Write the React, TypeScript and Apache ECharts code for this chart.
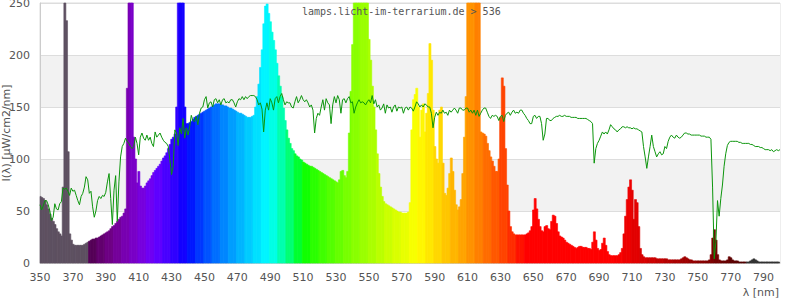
import React, { useEffect, useRef } from "react";
import * as echarts from "echarts";

const TITLE = "lamps.licht-im-terrarium.de > 536";
const Y_NAME = "I(λ) [µW/cm2/nm]";
const X_NAME = "λ [nm]";
const LAMBDA_START = 350;

// lamp spectrum, 1 nm steps from 350 nm to 799 nm
const spectrum: number[] = [
  64, 63, 62, 60, 56, 52, 47, 43, 40, 37,
  33, 30, 28, 26, 73, 400, 233, 107, 28, 22,
  18, 17, 17, 17, 17, 17, 17, 18, 19, 20,
  21, 22, 23, 23, 24, 24, 25, 26, 27, 28,
  29, 30, 31, 33, 35, 36, 38, 40, 42, 44,
  45, 48, 52, 168, 400, 400, 400, 121, 100, 77,
  88, 74, 72, 72, 74, 77, 79, 81, 84, 87,
  89, 91, 93, 95, 98, 101, 103, 106, 110, 114,
  119, 121, 124, 150, 400, 400, 400, 400, 150, 134,
  134, 135, 136, 138, 140, 141, 142, 143, 144, 145,
  146, 147, 148, 149, 150, 151, 152, 153, 153, 153,
  152, 152, 151, 151, 150, 149, 149, 148, 147, 146,
  145, 144, 144, 143, 142, 141, 140, 140, 140, 141,
  142, 150, 160, 172, 188, 205, 230, 247, 249, 240,
  232, 222, 214, 205, 192, 180, 170, 160, 149, 137,
  128, 120, 115, 110, 108, 105, 103, 102, 100, 99,
  97, 96, 95, 94, 93, 93, 92, 91, 90, 89,
  88, 87, 86, 85, 84, 83, 82, 81, 80, 79,
  78, 77, 80, 88, 89, 84, 82, 88, 125, 165,
  210, 400, 400, 400, 400, 400, 400, 400, 400, 400,
  215, 195, 170, 150, 128, 105, 86, 73, 64, 59,
  57, 56, 55, 54, 53, 52, 51, 50, 49, 49,
  48, 48, 48, 48, 49, 58, 128, 157, 162, 168,
  150, 121, 147, 153, 126, 144, 163, 211, 195, 147,
  112, 100, 96, 147, 150, 96, 67, 65, 72, 86,
  101, 88, 70, 56, 51, 54, 61, 86, 121, 160,
  400, 400, 400, 400, 400, 400, 400, 400, 126, 125,
  124, 122, 115, 108, 102, 98, 93, 88, 88, 100,
  140, 178, 170, 110, 75, 50, 35, 30, 28, 27,
  27, 27, 27, 27, 27, 27, 28, 29, 31, 35,
  51, 62, 52, 42, 35, 31, 30, 35, 36, 33,
  32, 40, 46, 45, 38, 30, 26, 25, 24, 22,
  20, 19, 18, 17, 16, 15, 14, 15, 16, 16,
  15, 15, 15, 14, 14, 13, 20, 30, 22, 14,
  12, 13, 19, 24, 17, 11, 8, 7, 7, 7,
  7, 7, 8, 10, 14, 28, 45, 61, 73, 80,
  70, 42, 61, 58, 35, 14, 8, 6, 5, 5,
  5, 5, 5, 5, 5, 4, 4, 4, 4, 4,
  4, 4, 3, 3, 3, 3, 3, 3, 3, 3,
  4, 5, 6, 5, 4, 3, 3, 2, 2, 2,
  2, 2, 2, 2, 2, 2, 2, 3, 8, 24,
  32, 22, 8, 3, 2, 2, 2, 2, 3, 6,
  5, 3, 2, 2, 2, 1, 1, 1, 1, 1,
  1, 1, 2, 3, 4, 3, 2, 1, 1, 1,
  1, 1, 1, 1, 1, 1, 1, 1, 1, 1,
];

// reference (daylight) curve, 1 nm steps from 350 nm to 800 nm
const reference: number[] = [
  56, 51, 55, 60, 60, 56, 50, 41, 44, 57,
  52, 51, 57, 59, 72, 71, 72, 69, 65, 72,
  69, 70, 65, 60, 56, 64, 67, 73, 83, 80,
  67, 69, 54, 44, 50, 60, 64, 62, 65, 64,
  68, 78, 86, 62, 37, 70, 84, 40, 78, 102,
  112, 115, 120, 117, 115, 112, 110, 112, 121, 115,
  104, 121, 125, 120, 118, 123, 118, 121, 115, 112,
  126, 121, 123, 125, 121, 118, 116, 115, 112, 99,
  85, 93, 128, 125, 113, 130, 124, 139, 120, 130,
  123, 131, 142, 137, 136, 141, 133, 144, 149, 150,
  157, 160, 149, 154, 155, 150, 157, 158, 154, 157,
  152, 157, 158, 154, 155, 154, 157, 157, 154, 150,
  155, 158, 157, 160, 157, 160, 158, 160, 161, 161,
  161, 160, 157, 152, 154, 148, 126, 147, 154, 147,
  158, 154, 147, 158, 160, 154, 160, 163, 157, 152,
  155, 154, 154, 150, 149, 155, 160, 154, 157, 161,
  157, 155, 157, 154, 150, 152, 147, 125, 139, 144,
  142, 150, 157, 147, 158, 154, 152, 134, 152, 160,
  154, 161, 157, 144, 157, 158, 154, 158, 160, 154,
  155, 144, 150, 154, 157, 154, 155, 154, 152, 155,
  157, 154, 161, 153, 157, 150, 152, 147, 149, 153,
  144, 152, 149, 150, 145, 150, 152, 146, 150, 149,
  150, 144, 149, 150, 147, 150, 149, 146, 150, 155,
  153, 150, 152, 150, 153, 152, 150, 150, 144, 130,
  140, 145, 142, 145, 144, 147, 144, 145, 142, 147,
  145, 147, 149, 147, 144, 149, 149, 147, 147, 149,
  149, 145, 147, 144, 147, 142, 147, 141, 144, 147,
  149, 149, 145, 141, 139, 142, 141, 142, 141, 137,
  141, 142, 136, 142, 144, 145, 142, 145, 147, 144,
  145, 144, 147, 147, 144, 142, 139, 137, 134, 134,
  141, 142, 139, 141, 141, 134, 118, 124, 139, 139,
  137, 137, 139, 140, 141, 141, 142, 141, 141, 142,
  141, 141, 141, 140, 140, 140, 140, 139, 139, 139,
  139, 139, 139, 138, 137, 136, 134, 96, 110, 115,
  118, 122, 126, 124, 126, 124, 128, 133, 131, 129,
  128, 126, 128, 129, 131, 131, 130, 131, 130, 130,
  129, 130, 129, 129, 128, 127, 126, 112, 102, 91,
  102, 112, 123, 112, 107, 102, 105, 107, 104, 105,
  112, 110, 117, 121, 123, 121, 120, 123, 121, 120,
  121, 123, 125, 125, 124, 124, 123, 123, 123, 123,
  123, 123, 122, 122, 122, 121, 121, 121, 119, 73,
  4, 20, 60, 45, 62, 75, 93, 105, 113, 116,
  117, 117, 117, 117, 117, 116, 116, 115, 115, 115,
  115, 115, 114, 114, 113, 112, 112, 112, 111, 111,
  110, 109, 109, 109, 108, 109, 107, 108, 109, 108,
  109,
];

function wavelengthColor(l: number): string {
  if (l < 380) return "#5e5161";
  if (l >= 780) return "#333333";
  const c = Math.floor(l / 5) * 5 + 2.5;
  let r = 0, g = 0, b = 0;
  if (c < 440) { r = -(c - 440) / 60; b = 1; }
  else if (c < 490) { g = (c - 440) / 50; b = 1; }
  else if (c < 510) { g = 1; b = -(c - 510) / 20; }
  else if (c < 580) { r = (c - 510) / 70; g = 1; }
  else if (c < 645) { r = 1; g = -(c - 645) / 65; }
  else { r = 1; }
  let f = 1;
  if (c < 420) f = 0.3 + (0.7 * (c - 380)) / 40;
  else if (c > 700) f = 0.3 + (0.7 * (780 - c)) / 80;
  const conv = (v: number) => (v <= 0 ? 0 : Math.round(255 * Math.pow(v, 0.8) * f));
  return `rgb(${conv(r)},${conv(g)},${conv(b)})`;
}

export default function App() {
  const ref = useRef<HTMLDivElement>(null);
  useEffect(() => {
    if (!ref.current) return;
    const chart = echarts.init(ref.current, undefined, { renderer: "svg" });
    const specData = spectrum.map((v, i) => [LAMBDA_START + i, v]);
    const refData = reference.map((v, i) => [LAMBDA_START + i, v]);
    const labelStyle = { color: "#555", fontSize: 11, fontFamily: "DejaVu Sans" };
    chart.setOption({
      animation: false,
      grid: {
        left: 40, right: 20, top: 3, bottom: 37,
        outerBoundsMode: "none",
        containLabel: false,
        show: true, borderColor: "#dddddd", borderWidth: 1,
      },
      title: {
        text: TITLE, left: 302, top: 6, padding: 0,
        textStyle: { fontFamily: "DejaVu Sans Mono", fontSize: 10, fontWeight: "normal", color: "#555" },
      },
      xAxis: {
        type: "value", min: 350, max: 800, interval: 20,
        axisLine: { show: true, lineStyle: { color: "#cccccc" } },
        axisTick: { show: false },
        splitLine: { show: false },
        axisLabel: { ...labelStyle, margin: 9, showMaxLabel: false },
      },
      yAxis: {
        type: "value", min: 0, max: 250, interval: 50,
        name: Y_NAME, nameLocation: "middle", nameGap: 28,
        nameMoveOverlap: false,
        nameTextStyle: { ...labelStyle },
        axisLine: { show: true, lineStyle: { color: "#cccccc" } },
        axisTick: { show: false },
        splitLine: { show: true, lineStyle: { color: "#dddddd", width: 1 } },
        splitArea: { show: true, areaStyle: { color: ["#ffffff", "#f2f2f2"] } },
        axisLabel: { ...labelStyle, margin: 10 },
      },
      graphic: [
        {
          type: "text", right: 21, top: 287,
          style: { text: X_NAME, fontSize: 11, fontFamily: "DejaVu Sans", fill: "#555" },
        },
      ],
      series: [
        {
          type: "custom",
          data: specData,
          encode: { x: 0, y: 1 },
          renderItem: (params: any, api: any) => {
            const x = api.value(0);
            const y = api.value(1);
            const p0 = api.coord([x - 0.5, y]);
            const p1 = api.coord([x + 0.5, 0]);
            const cs = params.coordSys;
            const rect = echarts.graphic.clipRectByRect(
              { x: p0[0], y: p0[1], width: p1[0] - p0[0] + 0.4, height: p1[1] - p0[1] },
              { x: cs.x, y: cs.y, width: cs.width, height: cs.height }
            );
            if (!rect) return null;
            const col = wavelengthColor(x);
            return { type: "rect", shape: rect, style: { fill: col, stroke: col, lineWidth: 0.6 } };
          },
          z: 2,
        },
        {
          type: "line",
          data: refData,
          symbol: "none",
          lineStyle: { color: "#0c950c", width: 1 },
          z: 3,
        },
      ],
    });
    return () => chart.dispose();
  }, []);
  return <div ref={ref} style={{ position: "absolute", left: 0, top: 0, width: 800, height: 300 }} />;
}
